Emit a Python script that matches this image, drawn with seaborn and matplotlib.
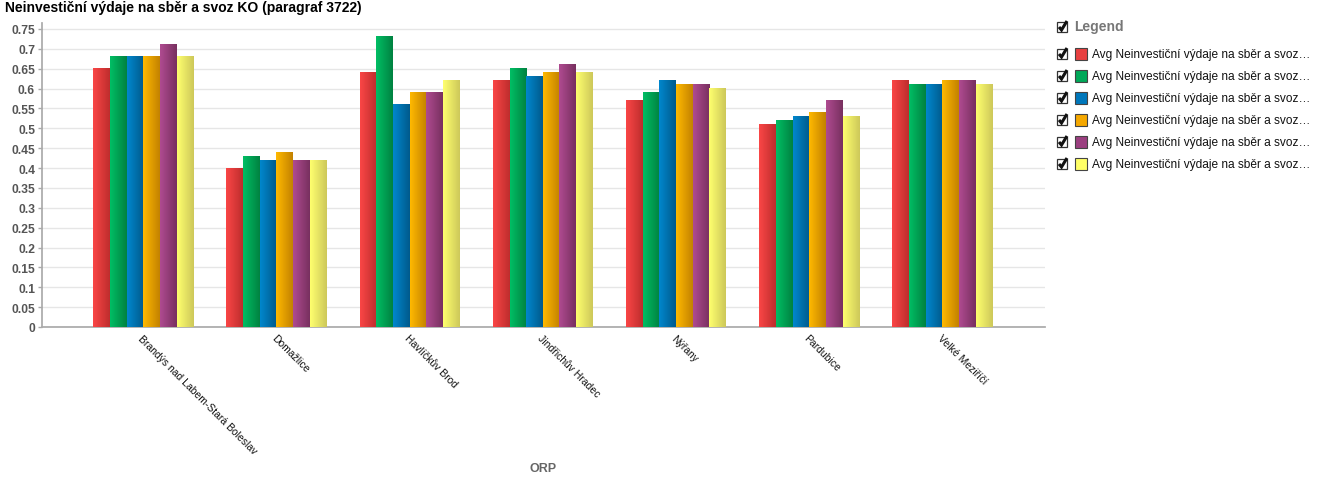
import numpy as np
import pandas as pd
import matplotlib
matplotlib.use("Agg")
import matplotlib.pyplot as plt
import seaborn as sns
from matplotlib.colors import LinearSegmentedColormap
from matplotlib.patches import Rectangle
from matplotlib.lines import Line2D

# ---------------- data ----------------
title = "Neinvestiční výdaje na sběr a svoz KO (paragraf 3722)"
categories = ["Brandýs nad Labem-Stará Boleslav", "Domažlice", "Havlíčkův Brod",
              "Jindřichův Hradec", "Nýřany", "Pardubice", "Velké Meziříčí"]
series_labels = ["Avg Neinvestiční výdaje na sběr a svoz…"] * 6
s1 = [0.65, 0.40, 0.64, 0.62, 0.57, 0.51, 0.62]
s2 = [0.68, 0.43, 0.73, 0.65, 0.59, 0.52, 0.61]
s3 = [0.68, 0.42, 0.56, 0.63, 0.62, 0.53, 0.61]
s4 = [0.68, 0.44, 0.59, 0.64, 0.61, 0.54, 0.62]
s5 = [0.71, 0.42, 0.59, 0.66, 0.61, 0.57, 0.62]
s6 = [0.68, 0.42, 0.62, 0.64, 0.60, 0.53, 0.61]
series_values = [s1, s2, s3, s4, s5, s6]
y_ticks = [0, 0.05, 0.1, 0.15, 0.2, 0.25, 0.3, 0.35, 0.4, 0.45, 0.5, 0.55, 0.6, 0.65, 0.7, 0.75]
y_tick_labels = ["0", "0.05", "0.1", "0.15", "0.2", "0.25", "0.3", "0.35", "0.4", "0.45",
                 "0.5", "0.55", "0.6", "0.65", "0.7", "0.75"]

# ---------------- styling ----------------
mid_colors = ["#E84040", "#00A859", "#0077BB", "#F5A800", "#9B3F80", "#FFFF66"]
grad = [("#FA4646", "#BE2D2D"), ("#00BE64", "#008241"), ("#0087CD", "#005A8C"),
        ("#FFB900", "#C38200"), ("#AF4B91", "#78305F"), ("#FFFF6E", "#CDC85A")]

W, H = 1319, 485
sns.set_theme(style="white")
plt.rcParams["font.family"] = ["Liberation Sans", "DejaVu Sans"]

fig = plt.figure(figsize=(W / 100, H / 100), dpi=100)
ax = fig.add_axes([42 / W, 1 - 328 / H, (1045 - 42) / W, (328 - 24) / H])

rows = []
for k, vals in enumerate(series_values):
    for c, v in zip(categories, vals):
        rows.append({"ORP": c, "series": f"s{k+1}", "value": v})
df = pd.DataFrame(rows)

sns.barplot(data=df, x="ORP", y="value", hue="series", palette=mid_colors,
            width=0.75, saturation=1, errorbar=None, legend=False,
            linewidth=0, ax=ax, zorder=2)

# gradient fill for every bar
grad_x = np.linspace(0, 1, 64).reshape(1, -1)
for k, cont in enumerate(ax.containers):
    cmap = LinearSegmentedColormap.from_list(f"g{k}", list(grad[k]))
    for p in cont.patches:
        x0, y0 = p.get_x(), p.get_y()
        w, h = p.get_width(), p.get_height()
        ax.imshow(grad_x, cmap=cmap, extent=[x0, x0 + w, y0, y0 + h],
                  aspect="auto", zorder=3, interpolation="bilinear")

ax.set_xlim(-0.76, len(categories) - 1 + 0.77)
ax.set_ylim(0, 0.765)
ax.set_yticks(y_ticks)
ax.set_yticklabels(y_tick_labels)
ax.yaxis.grid(True, color="#E6E6E6", linewidth=1, zorder=0)
ax.set_axisbelow(True)
for s in ["top", "right"]:
    ax.spines[s].set_visible(False)
ax.spines["left"].set_color("#AAAAAA")
ax.spines["bottom"].set_color("#AAAAAA")
ax.tick_params(axis="y", length=3, width=1, color="#AAAAAA", pad=2,
               labelsize=8.7, labelcolor="#555555", left=True)
for t in ax.get_yticklabels():
    t.set_fontweight("bold")
ax.tick_params(axis="x", length=0, pad=4, labelsize=7.5, labelcolor="#111111", bottom=True)
ax.set_xticks(range(len(categories)))
ax.set_xticklabels(categories, rotation=-45, ha="left", va="top", rotation_mode="anchor")
for t in ax.get_xticklabels():
    t.set_x(t.get_position()[0] - 0.04)

ax.set_ylabel("")
ax.set_xlabel("ORP", fontsize=9, fontweight="bold", color="#666666")
ax.xaxis.set_label_coords(0.5, -0.445)

fig.text(5 / W, 1 - 8 / H, title, fontsize=10, fontweight="bold", color="#000000",
         ha="left", va="center")

# ---------------- legend ----------------
def fx(x):
    return x / W

def fy(y):
    return 1 - y / H

def checkbox(x, y):
    fig.add_artist(Rectangle((fx(x), fy(y + 5)), 10 / W, 10 / H, transform=fig.transFigure,
                             facecolor="white", edgecolor="#333333", linewidth=0.9))
    fig.add_artist(Line2D([fx(x + 2), fx(x + 4.5), fx(x + 10)],
                          [fy(y), fy(y + 3), fy(y - 6)],
                          transform=fig.transFigure, color="#111111", linewidth=2.2,
                          solid_capstyle="butt", solid_joinstyle="miter"))

checkbox(1057, 28)
fig.text(fx(1074), fy(27), "Legend", fontsize=10, fontweight="bold", color="#777777",
         ha="left", va="center")
for i, (lab, col) in enumerate(zip(series_labels, mid_colors)):
    yc = 55 + 22 * i
    checkbox(1057, yc)
    fig.add_artist(Rectangle((fx(1075), fy(yc + 6)), 12 / W, 12 / H,
                             transform=fig.transFigure, facecolor=col,
                             edgecolor="#444444", linewidth=0.8))
    fig.text(fx(1092), fy(yc), lab, fontsize=8.6, color="#111111", ha="left", va="center")

fig.savefig("out.png", dpi=100)
